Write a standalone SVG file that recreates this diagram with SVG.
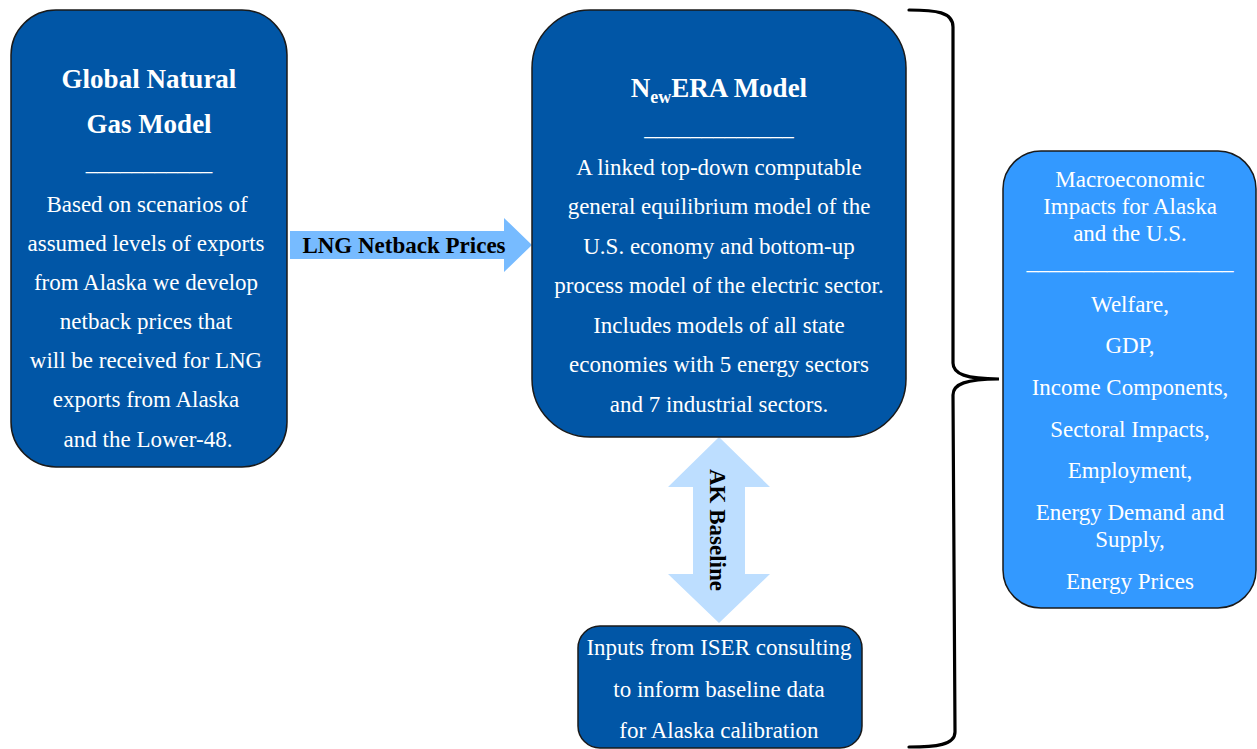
<svg xmlns="http://www.w3.org/2000/svg" width="1257" height="749" viewBox="0 0 1257 749">
<style>
  text { font-family: "Liberation Serif", "Times New Roman", serif; fill: #ffffff; text-anchor: middle; }
  .body { font-size: 23px; }
  .title { font-size: 27px; font-weight: bold; }
  .lbl { font-size: 23px; font-weight: bold; fill: #000000; }
  .dark { fill: #0156A6; stroke: #1a1a1a; stroke-width: 1.5; }
  .light { fill: #3399FF; stroke: #1a1a1a; stroke-width: 1.5; }
</style>
<rect width="1257" height="749" fill="#ffffff"/>
<g id="connectors">
  <polygon id="lng-arrow" points="290,231 504,231 504,218 532,245 504,272 504,259 290,259" fill="#77BBFF"/>
  <text class="lbl" x="404" y="253">LNG Netback Prices</text>
  <polygon id="ak-arrow" points="719,437 770,487 745,487 745,574 770,574 719,623 668,574 693,574 693,487 668,487" fill="#BDDEFF"/>
  <text class="lbl" transform="translate(718,530) rotate(90)" x="0" y="8">AK Baseline</text>
  <path id="brace" d="M 909 10 C 936 10 953 12 953 27 L 953 363 C 953 374 966 379 999 379 C 966 379 953 384 953 395 L 955 732 C 955 745 936 747 909 747" fill="none" stroke="#000000" stroke-width="3.2" stroke-linecap="round"/>
</g>
<g id="global-gas-model">
  <rect class="dark" x="11" y="10" width="276" height="457" rx="45"/>
  <text class="title" x="149" y="88">Global Natural</text>
  <text class="title" x="149" y="133">Gas Model</text>
  <text class="body" x="149" y="170">___________</text>
  <text class="body" x="147" y="212">Based on scenarios of</text>
  <text class="body" x="146" y="251">assumed levels of exports</text>
  <text class="body" x="146" y="290">from Alaska we develop</text>
  <text class="body" x="146" y="329">netback prices that</text>
  <text class="body" x="146" y="368">will be received for LNG</text>
  <text class="body" x="146" y="407">exports from Alaska</text>
  <text class="body" x="148" y="447">and the Lower-48.</text>
</g>
<g id="newera-model">
  <rect class="dark" x="532" y="10" width="374" height="427" rx="58"/>
  <text class="title" x="719" y="97">N<tspan font-size="18" dy="6">ew</tspan><tspan dy="-6">ERA Model</tspan></text>
  <text class="body" x="719" y="135">_____________</text>
  <text class="body" x="719" y="175">A linked top-down computable</text>
  <text class="body" x="719" y="214">general equilibrium model of the</text>
  <text class="body" x="719" y="254">U.S. economy and bottom-up</text>
  <text class="body" x="719" y="293">process model of the electric sector.</text>
  <text class="body" x="719" y="333">Includes models of all state</text>
  <text class="body" x="719" y="372">economies with 5 energy sectors</text>
  <text class="body" x="719" y="412">and 7 industrial sectors.</text>
</g>
<g id="iser-inputs">
  <rect class="dark" x="578" y="626" width="284" height="122" rx="22"/>
  <text class="body" x="719" y="655">Inputs from ISER consulting</text>
  <text class="body" x="719" y="697">to inform baseline data</text>
  <text class="body" x="719" y="738">for Alaska calibration</text>
</g>
<g id="macro-impacts">
  <rect class="light" x="1003" y="151" width="253" height="457" rx="38"/>
  <text class="body" x="1130" y="187">Macroeconomic</text>
  <text class="body" x="1130" y="214">Impacts for Alaska</text>
  <text class="body" x="1130" y="241">and the U.S.</text>
  <text class="body" x="1130" y="269">__________________</text>
  <text class="body" x="1130" y="312">Welfare,</text>
  <text class="body" x="1130" y="353">GDP,</text>
  <text class="body" x="1130" y="395">Income Components,</text>
  <text class="body" x="1130" y="437">Sectoral Impacts,</text>
  <text class="body" x="1130" y="478">Employment,</text>
  <text class="body" x="1130" y="520">Energy Demand and</text>
  <text class="body" x="1130" y="547">Supply,</text>
  <text class="body" x="1130" y="589">Energy Prices</text>
</g>
</svg>
